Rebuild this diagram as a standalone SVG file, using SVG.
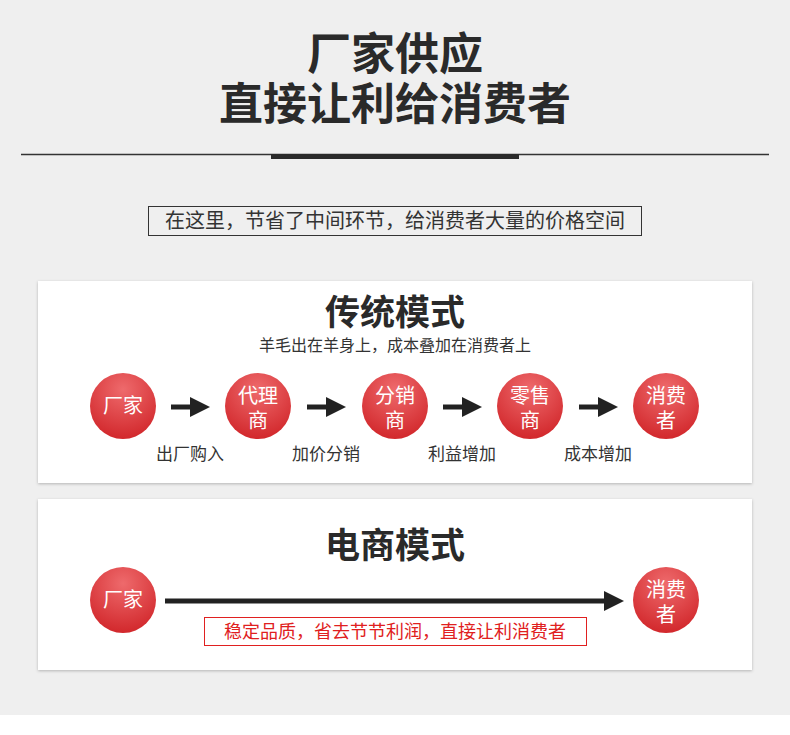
<svg xmlns="http://www.w3.org/2000/svg" width="790" height="735" viewBox="0 0 790 735">
<defs>
<radialGradient id="rg" cx="50%" cy="25%" r="75%"><stop offset="0" stop-color="#ee6a6c"/><stop offset="1" stop-color="#d2282c"/></radialGradient>
<filter id="sh" x="-5%" y="-5%" width="110%" height="115%"><feDropShadow dx="0" dy="1" stdDeviation="1.5" flood-color="#000" flood-opacity="0.25"/></filter>
<marker id="ah" markerWidth="4" markerHeight="4" refX="2" refY="2" orient="auto" markerUnits="strokeWidth"><path d="M0,0L4,2L0,4Z" fill="#222"/></marker>
</defs>
<style>
text{font-family:"Noto Sans CJK SC",sans-serif;text-anchor:middle}
.c{fill:url(#rg)}
.w{fill:#fff;font-size:20px}
.l{fill:#333;font-size:17px}
.card{fill:#fff;filter:url(#sh)}
</style>
<rect width="790" height="735" fill="#fff"/>
<rect width="790" height="715" fill="#efefef"/>
<text x="395" y="70" font-size="44" font-weight="bold" fill="#2a2a2a">厂家供应</text>
<text x="395" y="120" font-size="44" font-weight="bold" fill="#2a2a2a">直接让利给消费者</text>
<line x1="21" y1="154.5" x2="769" y2="154.5" stroke="#333" stroke-width="1.3"/>
<rect x="271" y="154" width="248" height="5" fill="#2a2a2a"/>
<rect x="148.5" y="206.5" width="493" height="29" fill="none" stroke="#333"/>
<text x="395" y="228" font-size="20" fill="#333">在这里，节省了中间环节，给消费者大量的价格空间</text>
<rect class="card" x="38" y="281" width="714" height="202"/>
<rect class="card" x="38" y="499" width="714" height="171"/>
<text x="395" y="325" font-size="35" font-weight="bold" fill="#2a2a2a">传统模式</text>
<text x="395" y="351" font-size="16" fill="#333">羊毛出在羊身上，成本叠加在消费者上</text>
<text x="395" y="558" font-size="35" font-weight="bold" fill="#2a2a2a">电商模式</text>
<g id="connectors" stroke="#222" stroke-width="5" marker-end="url(#ah)">
<line x1="171" y1="407" x2="200" y2="407"/>
<line x1="307" y1="407" x2="336" y2="407"/>
<line x1="443" y1="407" x2="472" y2="407"/>
<line x1="579" y1="407" x2="608" y2="407"/>
<line x1="165" y1="601" x2="614" y2="601"/>
</g>
<g id="n1"><circle class="c" cx="123" cy="406" r="33"/><text class="w" x="123" y="413">厂家</text></g>
<g id="n2"><circle class="c" cx="258" cy="406" r="33"/><text class="w" x="258" y="403">代理</text><text class="w" x="258" y="428">商</text></g>
<g id="n3"><circle class="c" cx="395" cy="406" r="33"/><text class="w" x="395" y="403">分销</text><text class="w" x="395" y="428">商</text></g>
<g id="n4"><circle class="c" cx="530" cy="406" r="33"/><text class="w" x="530" y="403">零售</text><text class="w" x="530" y="428">商</text></g>
<g id="n5"><circle class="c" cx="666" cy="406" r="33"/><text class="w" x="666" y="403">消费</text><text class="w" x="666" y="428">者</text></g>
<text class="l" x="190" y="460">出厂购入</text>
<text class="l" x="326" y="460">加价分销</text>
<text class="l" x="462" y="460">利益增加</text>
<text class="l" x="598" y="460">成本增加</text>
<g id="e1"><circle class="c" cx="123" cy="600" r="33"/><text class="w" x="123" y="607">厂家</text></g>
<g id="e2"><circle class="c" cx="666" cy="600" r="33"/><text class="w" x="666" y="597">消费</text><text class="w" x="666" y="622">者</text></g>
<rect x="204.5" y="617.5" width="382" height="28" fill="none" stroke="#e02020"/>
<text x="395" y="638" font-size="18" fill="#e02020">稳定品质，省去节节利润，直接让利消费者</text>
</svg>
